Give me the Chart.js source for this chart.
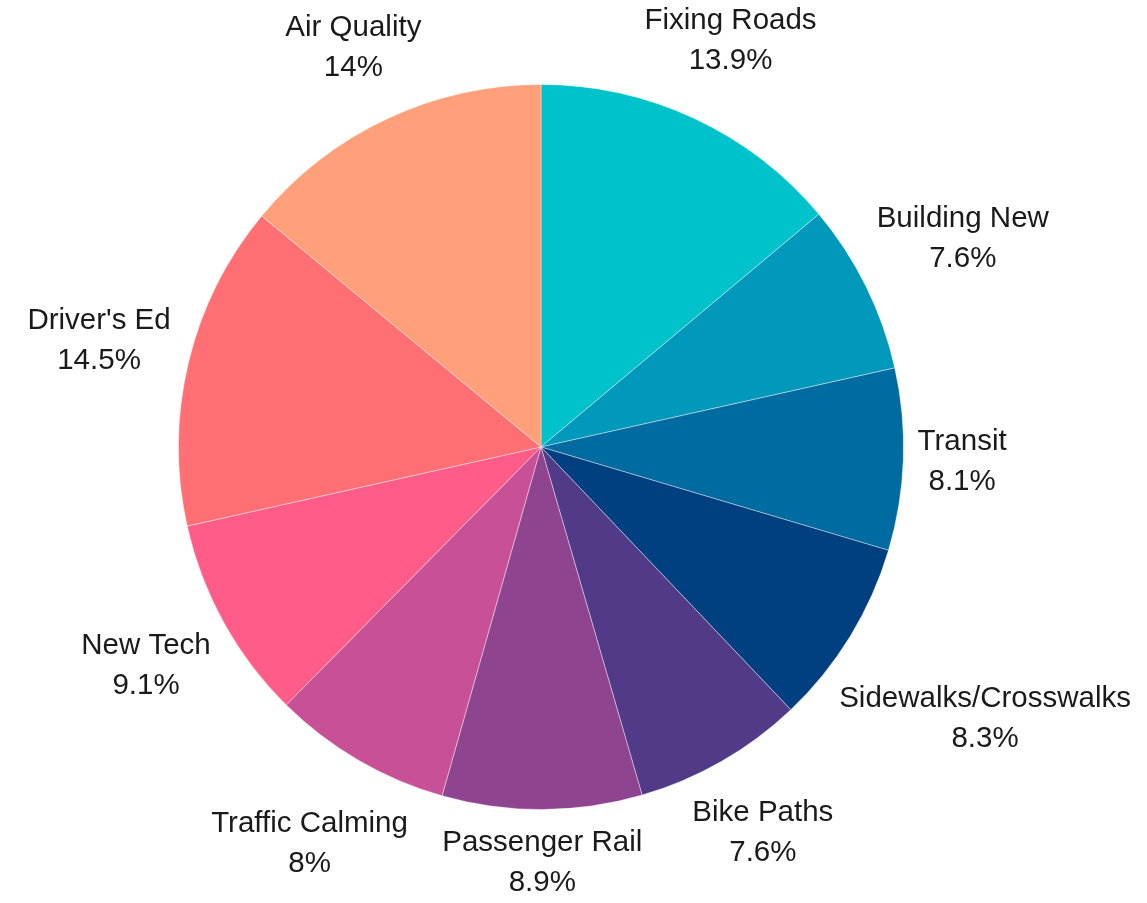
<!DOCTYPE html>
<html>
<head>
<meta charset="utf-8">
<script src="https://cdn.jsdelivr.net/npm/chart.js@4/dist/chart.umd.min.js"></script>
<style>
  html, body { margin: 0; padding: 0; background: #fff; }
  #wrap { width: 1147px; height: 903px; }
</style>
</head>
<body>
<div id="wrap"><canvas id="pieChart" width="1147" height="903"></canvas></div>
<script>
const categories = ['Fixing Roads', 'Building New', 'Transit', 'Sidewalks/Crosswalks', 'Bike Paths',
    'Passenger Rail', 'Traffic Calming', 'New Tech', "Driver's Ed", 'Air Quality'];
const shares = [13.9, 7.6, 8.1, 8.3, 7.6, 8.9, 8, 9.1, 14.5, 14];
const sliceColors = ['#00c2cb', '#0099bb', '#006ba0', '#003f80', '#513a87',
    '#8e448f', '#c85096', '#ff5c8a', '#ff6f73', '#ffa07a'];

// draws "name / value%" outside each slice
const outsideLabels = {
    id: 'outsideLabels',
    afterDatasetsDraw(chart) {
        const ctx = chart.ctx;
        const meta = chart.getDatasetMeta(0);
        const lineH = 40;
        ctx.save();
        ctx.font = '29.5px "Liberation Sans", Arial, sans-serif';
        ctx.fillStyle = '#1a1a1a';
        ctx.textAlign = 'center';
        ctx.textBaseline = 'middle';
        meta.data.forEach((arc, i) => {
            const mid = (arc.startAngle + arc.endAngle) / 2;
            const lines = [categories[i], shares[i] + '%'];
            const w = Math.max(...lines.map(t => ctx.measureText(t).width));
            const h = lineH * 2;
            const cx = Math.cos(mid), sy = Math.sin(mid);
            const extent = Math.abs(w / 2 * cx) + Math.abs(h / 2 * sy);
            const d = arc.outerRadius + 13 + extent;
            const x = arc.x + d * cx;
            const y = arc.y + d * sy;
            ctx.fillText(lines[0], x, y - lineH / 2);
            ctx.fillText(lines[1], x, y + lineH / 2);
        });
        ctx.restore();
    }
};

new Chart(document.getElementById('pieChart'), {
    type: 'pie',
    data: {
        labels: categories,
        datasets: [{
            data: shares,
            backgroundColor: sliceColors,
            borderColor: 'rgba(255,255,255,0.4)',
            borderWidth: 1
        }]
    },
    options: {
        responsive: false,
        animation: false,
        layout: { padding: { top: 84, bottom: 93, left: 178, right: 243 } },
        plugins: {
            legend: { display: false },
            tooltip: { enabled: false }
        }
    },
    plugins: [outsideLabels]
});
</script>
</body>
</html>
